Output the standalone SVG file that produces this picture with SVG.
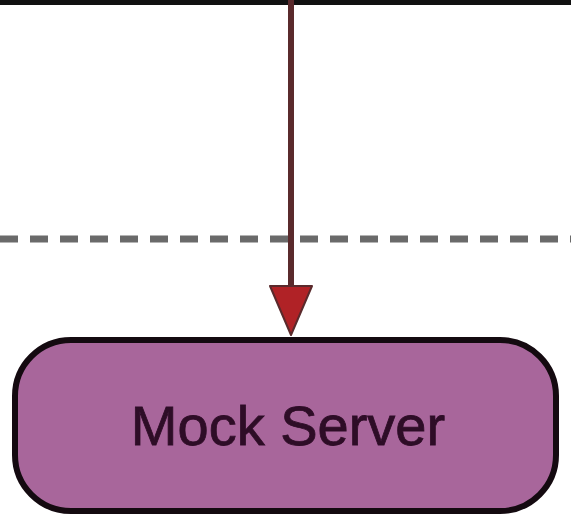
<svg xmlns="http://www.w3.org/2000/svg" width="571" height="520" viewBox="0 0 571 520">
  <defs>
    <style>
      .node { fill: #a8669b; stroke: #140a10; stroke-width: 6; }
      .label { font-family: "Liberation Sans", Arial, sans-serif; font-size: 56px; fill: #2e0d27; stroke: #2e0d27; stroke-width: 0.8; text-anchor: middle; }
      .edge { stroke: #5a2a2c; stroke-width: 6; fill: none; }
      .sep { stroke: #6a6a6a; stroke-width: 7; stroke-dasharray: 18 12; }
      .frame { stroke: #111111; stroke-width: 5; }
    </style>
  </defs>
  <rect x="0" y="0" width="571" height="520" fill="#ffffff"/>
  <line class="frame" x1="0" y1="2.5" x2="571" y2="2.5"/>
  <line class="sep" x1="0" y1="239" x2="571" y2="239"/>
  <g id="connectors">
    <line class="edge" x1="291" y1="0" x2="291" y2="290"/>
    <polygon points="270,286 312,286 291,335" fill="#b02226" stroke="#5a2a2c" stroke-width="2" stroke-linejoin="round"/>
  </g>
  <g id="mock-server">
    <rect class="node" x="15" y="340" width="541" height="171" rx="56" ry="56"/>
    <text class="label" x="288" y="445">Mock Server</text>
  </g>
</svg>
